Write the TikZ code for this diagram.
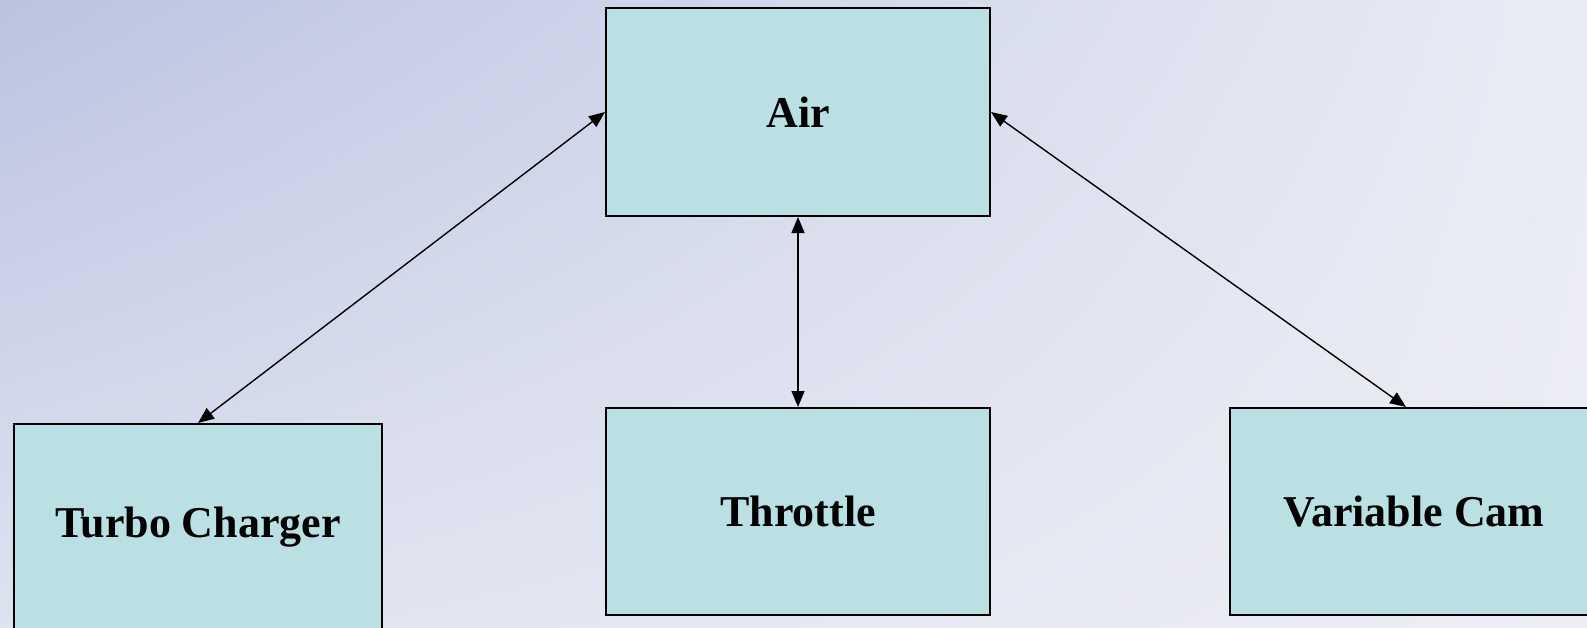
\documentclass[tikz,border=0pt]{standalone}
\usepackage{fontspec}
\setmainfont{Liberation Serif}
\usetikzlibrary{arrows.meta,shadings}
\definecolor{boxfill}{HTML}{BBE0E3}
\definecolor{bgA}{HTML}{BAC3DF}
\definecolor{bgC}{HTML}{DFE2EF}
\definecolor{bgD}{HTML}{EAECF5}
\definecolor{bgE}{HTML}{ECEDF5}
\tikzset{
  unitbox/.style={draw=black, line width=2pt, fill=boxfill, anchor=north west,
    minimum width=384pt, minimum height=207pt, inner sep=0pt,
    font=\fontsize{44}{50}\selectfont\bfseries},
  link/.style={line width=1.4pt, {Triangle[length=16pt,width=13pt]}-{Triangle[length=16pt,width=13pt]}}
}
\begin{document}
\begin{tikzpicture}[x=1pt,y=-1pt]
  % background
  \shade[upper left=bgA, upper right=bgD, lower left=bgC, lower right=bgE]
    (0,0) rectangle (1587,627);
  \useasboundingbox (0,0) rectangle (1587,627);

  % boxes
  \node[unitbox, minimum height=208pt] (air) at (605,7) {Air};
  \node[unitbox, minimum width=368pt] (turbo) at (13,423) {Turbo Charger};
  \node[unitbox] (throttle) at (605,407) {Throttle};
  \node[unitbox, minimum width=368pt] (cam) at (1229,407) {Variable Cam};

  % connectors
  \draw[link] (air.west) -- (turbo.north);
  \draw[link] (air.south) -- (throttle.north);
  \draw[link] (air.east) -- ([xshift=-8pt]cam.north);
\end{tikzpicture}
\end{document}
